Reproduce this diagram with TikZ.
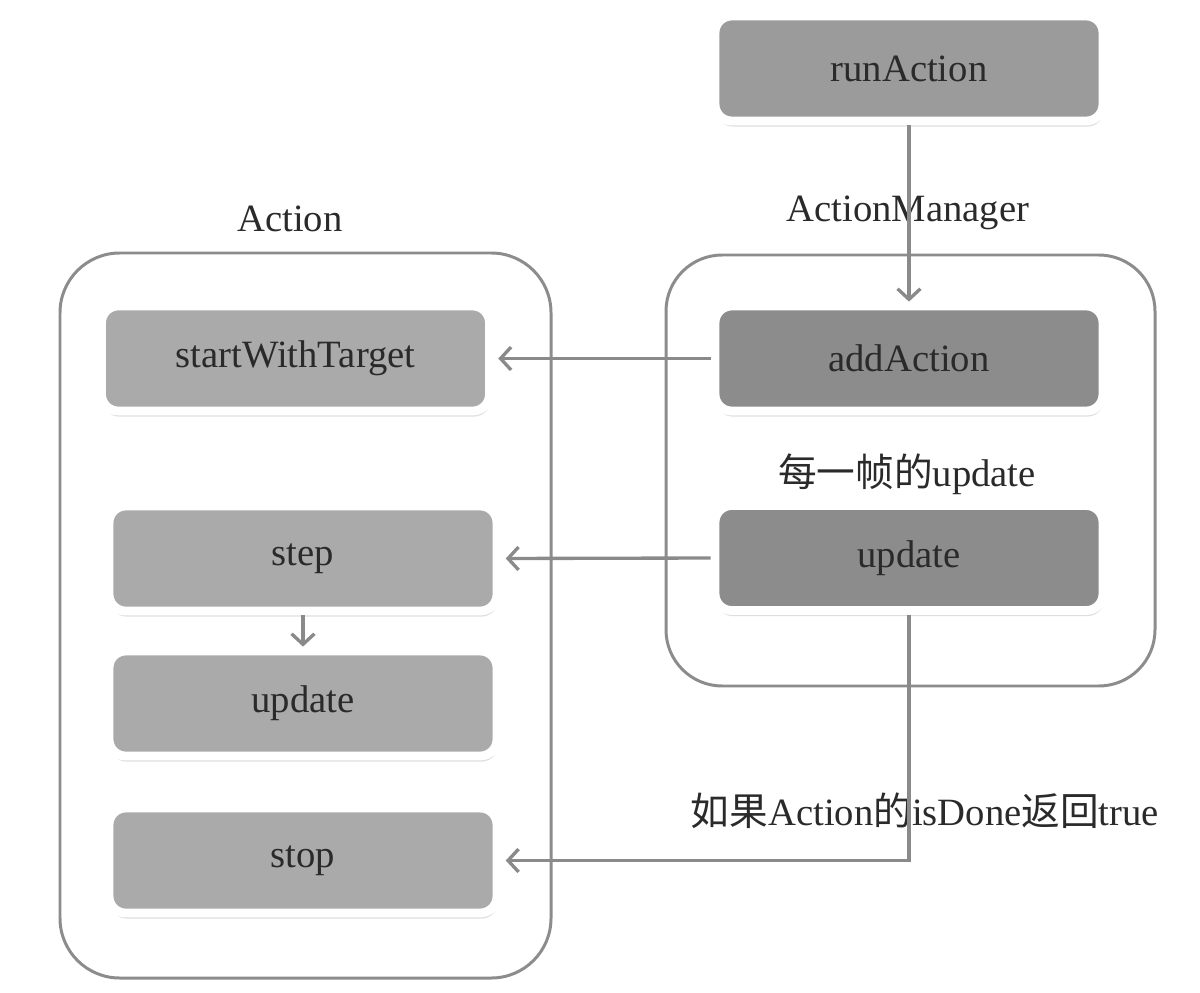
\documentclass[tikz,border=0pt]{standalone}
\usepackage{fontspec}
\setmainfont{Liberation Serif}
\newfontfamily\cjk{Noto Sans CJK SC}
\usetikzlibrary{arrows.meta,shadows}
\definecolor{lightbox}{HTML}{AAAAAA}
\definecolor{midbox}{HTML}{9B9B9B}
\definecolor{darkbox}{HTML}{8C8C8C}
\definecolor{txt}{HTML}{2A2A2A}
\definecolor{linecol}{HTML}{8A8A8A}
\definecolor{framecol}{HTML}{8C8C8C}
\tikzset{
  gbox/.style={rounded corners=9.5pt, minimum width=7.76cm, minimum height=2.1cm,
    fill=#1, draw=white, line width=5pt,
    drop shadow={shadow xshift=0.6pt, shadow yshift=-3.2pt, fill=black, opacity=0.13},
    text=txt, font=\fontsize{22}{26}\selectfont, inner sep=0pt},
  frame/.style={draw=framecol, line width=1.7pt},
  lbl/.style={text=txt, font=\fontsize{22}{26}\selectfont, inner sep=1pt},
  conn/.style={draw=linecol, line width=1.9pt,
    -{Straight Barb[length=6pt,width=13pt,line width=1.9pt]}},
}
\begin{document}
\begin{tikzpicture}[x=0.02cm,y=-0.02cm]
\useasboundingbox (0,0) rectangle (1200,993);
% containers
\draw[frame, rounded corners=34pt] (60,253) rectangle (551,978);
\draw[frame, rounded corners=32pt] (666,255) rectangle (1155,686);
% titles
\node[lbl] (tAction) at (290,219) {Action};
\node[lbl] (tManager) at (908,213) {ActionManager};
% boxes
\node[gbox=midbox] (run) at (909,68.5) {runAction};
\node[gbox=darkbox] (add) at (909,358.5) {addAction};
\node[gbox=darkbox] (updR) at (909,558) {update};
\node[gbox=lightbox] (swt) at (295.5,358.5) {startWithTarget};
\node[gbox=lightbox] (step) at (303,558.5) {step};
\node[gbox=lightbox] (updL) at (303,703.5) {update};
\node[gbox=lightbox] (stop) at (303,860.5) {stop};
% labels
\node[lbl] (frameLbl) at (907,474) {{\cjk 每一帧的}update};
\node[lbl] (doneLbl) at (925,811) {{\cjk 如果}Action{\cjk 的}isDone{\cjk 返回}true};
% connectors
\draw[conn] (run.south) -- (add.north);
\draw[conn, shorten >=2.5pt] (add.west) -- (swt.east);
\draw[conn, shorten >=2.5pt] (updR.west) -- (step.east);
\draw[conn] (step.south) -- (updL.north);
\coordinate (bend) at (updR.south |- stop.east);
\draw[conn, shorten >=2.5pt] (updR.south) -- (bend) -- (stop.east);
\end{tikzpicture}
\end{document}
